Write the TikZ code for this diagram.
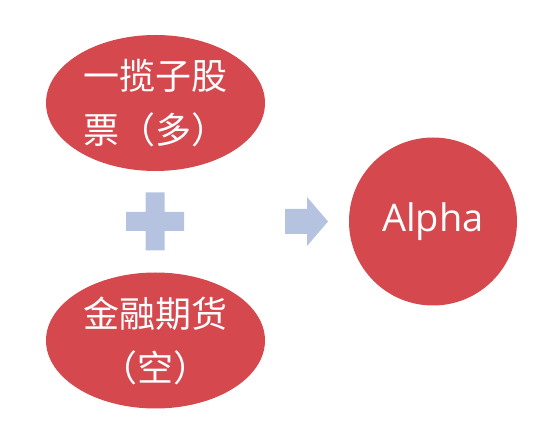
\documentclass[tikz,border=0pt]{standalone}
\usepackage{fontspec}
\setmainfont{Noto Sans CJK SC}
\newfontfamily\latinfont{Open Sans}
\usetikzlibrary{shapes,positioning}
\definecolor{ovalred}{HTML}{D4484E}
\definecolor{signblue}{HTML}{B5C3E0}
\begin{document}
\begin{tikzpicture}[x=1pt, y=-1pt,
		oval/.style={ellipse, fill=ovalred, text=white, inner sep=0pt, minimum width=219pt, minimum height=136pt, align=center, font=\fontsize{36}{54}\selectfont},
		sign/.style={fill=signblue}]
			\useasboundingbox (0,0) rectangle (544,427);
			\node (stock) [oval] at (155.5,103) {一揽子股\\票（多）};
			\node (future) [oval] at (155.5,340.5) {金融期货\\（空）};
			\node (alpha) [circle, fill=ovalred, text=white, inner sep=0pt, minimum size=168pt, font=\latinfont\fontsize{38}{40}\selectfont] at (433,221.5) {Alpha};
			
			% plus sign between the two ovals
			\coordinate (plus) at (155,221.5);
			\fill[sign] ([shift={(-9.5,-29)}]plus) -- ++(19,0) -- ++(0,19.5) -- ++(19.5,0) -- ++(0,19) -- ++(-19.5,0) -- ++(0,19.5) -- ++(-19,0) -- ++(0,-19.5) -- ++(-19.5,0) -- ++(0,-19) -- ++(19.5,0) -- cycle;
			% arrow towards alpha
			\coordinate (arrow) at (285,221.5);
			\fill[sign] ([shift={(0,-12.5)}]arrow) -- ++(22,0) -- ++(0,-12) -- ++(21,24.5) -- ++(-21,24.5) -- ++(0,-12) -- ++(-22,0) -- cycle;
		\end{tikzpicture}
\end{document}
